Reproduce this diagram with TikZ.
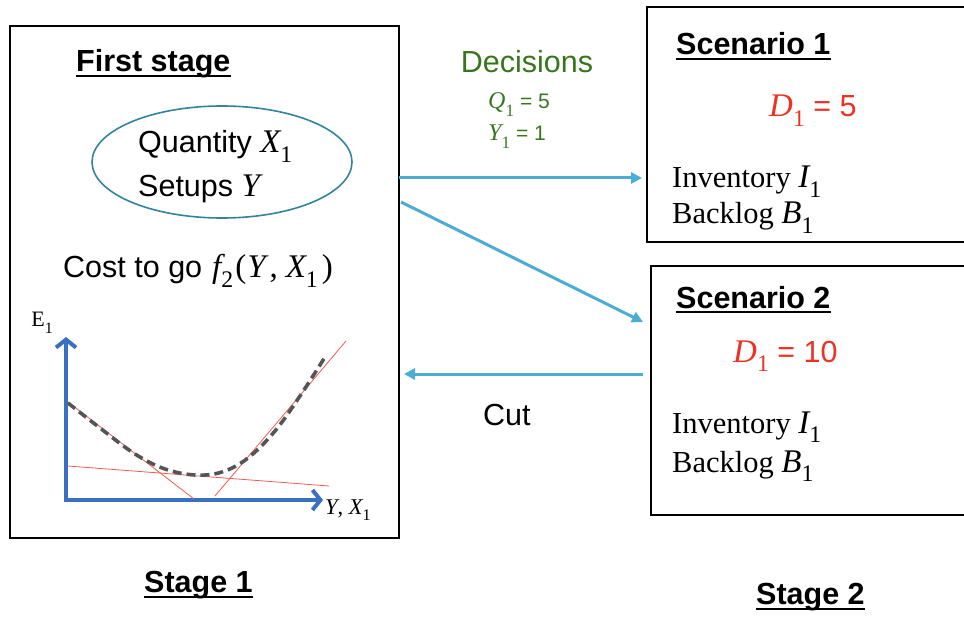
\documentclass[tikz,border=0pt]{standalone}
\usepackage{fontspec}
\setmainfont{Liberation Serif}
\newfontfamily\arial{Liberation Sans}
\usetikzlibrary{shapes.geometric,arrows.meta,calc}
\definecolor{flow}{RGB}{75,172,214}
\definecolor{ell}{RGB}{49,132,155}
\definecolor{dgreen}{RGB}{56,118,29}
\definecolor{dred}{RGB}{236,51,35}
\definecolor{axisblue}{RGB}{58,112,192}
\definecolor{tangent}{RGB}{240,90,80}
\definecolor{curvegray}{RGB}{85,85,85}
\newcommand\sub[1]{\raisebox{-0.3em}{\scalebox{0.72}{#1}}}
\newcommand\mv[2]{{\rmfamily\itshape #1}\sub{\rmfamily\upshape #2}}
\newcommand\bigvar[1]{{\rmfamily\fontsize{33bp}{36bp}\selectfont #1}}
\tikzset{
  txt/.style={inner sep=0pt, anchor=base west},
  sans/.style={font=\arial\fontsize{30.5bp}{34bp}\selectfont},
  sansb/.style={font=\arial\bfseries\fontsize{30.5bp}{34bp}\selectfont},
  serif/.style={font=\rmfamily\fontsize{30.5bp}{34bp}\selectfont},
  small/.style={font=\arial\fontsize{21bp}{24bp}\selectfont},
  frame/.style={draw, line width=2bp, anchor=north west, inner sep=0pt},
  flowarrow/.style={draw=flow, line width=3bp, -{Triangle[length=11bp,width=11bp]}},
  axis/.style={draw=axisblue, line width=4bp, -{Straight Barb[length=8bp,width=20bp]}},
  tline/.style={draw=tangent, line width=0.8bp},
  curve/.style={draw=curvegray, line width=3.6bp, dash pattern=on 9bp off 5bp},
  uline/.style={line width=2bp},
}
\begin{document}
\begin{tikzpicture}[x=1bp, y=-1bp]
\useasboundingbox (0,0) rectangle (964,617);
\clip (0,0) rectangle (964,617);
% boxes
\node[frame, minimum width=389bp, minimum height=512bp] (stage1) at (9,25) {};
\node[frame, minimum width=330bp, minimum height=235bp] (scen1) at (646,6) {};
\node[frame, minimum width=330bp, minimum height=249bp] (scen2) at (650,265) {};
% first stage contents
\node[txt, sansb] (fs) at (76,72) {First stage};
\draw[uline] ($(fs.base west)+(0,4)$) -- ($(fs.base east)+(0,4)$);
\node[draw=ell, line width=1.6bp, ellipse, minimum width=260bp, minimum height=112bp] (ell) at (222,162) {};
\node[txt, sans] (qty) at (138,153) {Quantity \bigvar{\mv{X}{1}}};
\node[txt, sans] (setups) at (138,197) {Setups \bigvar{\itshape Y}};
\node[txt, sans] (cost) at (63,278) {Cost to go\kern10bp\bigvar{\mv{f}{2}\kern2bp(\kern1bp\textit{Y}\kern1bp,\kern8bp\mv{X}{1}\kern4bp)}};
% graph
\coordinate (ytop) at (66,337);
\coordinate (xend) at (323,500);
\coordinate (xstart) at (64,500);
\coordinate (ybot) at (66,502);
\draw[axis] (ybot) -- (ytop);
\draw[axis] (xstart) -- (xend);
\node[font=\rmfamily\fontsize{22bp}{26bp}\selectfont, inner sep=0pt] (elab) at (42,323) {E\sub{1}};
\node[txt, font=\rmfamily\fontsize{22.5bp}{26bp}\selectfont] (xlab) at (325,514) {\textit{Y}, \mv{X}{1}};
\coordinate (t1a) at (68,402);
\coordinate (t1b) at (194,499);
\coordinate (t2a) at (68,466);
\coordinate (t2b) at (329,486);
\coordinate (t3a) at (215,496);
\coordinate (t3b) at (346,341);
\draw[tline] (t1a) -- (t1b);
\draw[tline] (t2a) -- (t2b);
\draw[tline] (t3a) -- (t3b);
\draw[curve] plot[smooth, tension=0.6] coordinates {(68,403) (100,428) (135,454) (165,469) (195,475) (222,472) (248,458) (275,431) (300,396) (325,357)};
% stage labels
\node[txt, sansb] (st1) at (144,592) {Stage 1};
\draw[uline] ($(st1.base west)+(0,5)$) -- ($(st1.base east)+(0,5)$);
\node[txt, sansb] (st2) at (756,604) {Stage 2};
\draw[uline] ($(st2.base west)+(0,5)$) -- ($(st2.base east)+(0,5)$);
% decisions
\node[sans, text=dgreen, inner sep=0pt] (dec) at (527,62) {Decisions};
\node[txt, small, text=dgreen] (q1) at (488,109) {{\fontsize{24bp}{26bp}\selectfont\mv{Q}{1}} = 5};
\node[txt, small, text=dgreen] (y1) at (488,141) {{\fontsize{24bp}{26bp}\selectfont\mv{Y}{1}} = 1};
% scenario 1
\node[txt, sansb] (sc1) at (676,55) {Scenario 1};
\draw[uline] ($(sc1.base west)+(0,4)$) -- ($(sc1.base east)+(0,4)$);
\node[txt, sans, text=dred] (d1) at (769,117) {\bigvar{\mv{D}{1}} = 5};
\node[txt, serif] (inv1) at (672,188) {Inventory \bigvar{\mv{I}{1}}};
\node[txt, serif] (bk1) at (672,224) {Backlog \bigvar{\mv{B}{1}}};
% scenario 2
\node[txt, sansb] (sc2) at (676,308) {Scenario 2};
\draw[uline] ($(sc2.base west)+(0,4)$) -- ($(sc2.base east)+(0,4)$);
\node[txt, sans, text=dred] (d2) at (733,362) {\bigvar{\mv{D}{1}} = 10};
\node[txt, serif] (inv2) at (672,433) {Inventory \bigvar{\mv{I}{1}}};
\node[txt, serif] (bk2) at (672,472) {Backlog \bigvar{\mv{B}{1}}};
% connectors
\coordinate (a1s) at (399,178);
\coordinate (a1e) at (642,178);
\coordinate (a2s) at (401,202);
\coordinate (a2e) at (643,322);
\coordinate (cs) at (643,374);
\coordinate (ce) at (404,374);
\draw[flowarrow] (a1s) -- (a1e);
\draw[flowarrow] (a2s) -- (a2e);
\draw[flowarrow] (cs) -- (ce);
\node[txt, sans] (cut) at (483,425) {Cut};
\end{tikzpicture}
\end{document}
